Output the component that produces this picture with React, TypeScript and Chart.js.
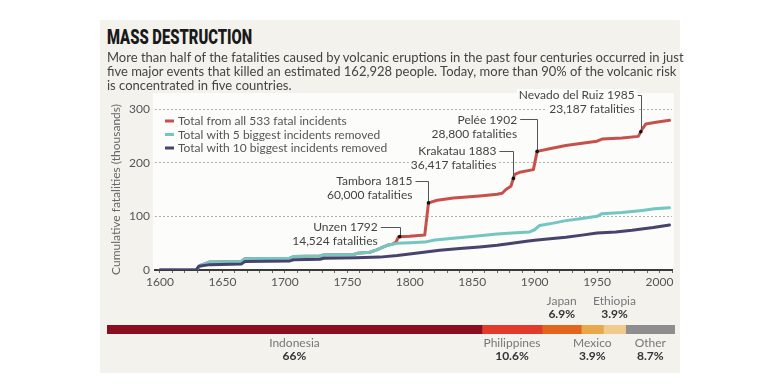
import React, { useEffect, useLayoutEffect, useRef } from 'react';
import { Chart, registerables } from 'chart.js';

Chart.register(...registerables);

// ---------------- data ----------------
const TITLE = 'MASS DESTRUCTION';
const DESCRIPTION_LINES = [
  'More than half of the fatalities caused by volcanic eruptions in the past four centuries occurred in just',
  'five major events that killed an estimated 162,928 people. Today, more than 90% of the volcanic risk',
  'is concentrated in five countries.',
];
const Y_AXIS_TITLE = 'Cumulative fatalities (thousands)';
const Y_TICKS = [0, 100, 200, 300];
const X_TICK_LABELS = [1600, 1650, 1700, 1750, 1800, 1850, 1900, 1950, 2000];
const X_MINOR_TICKS = [
  1600, 1610, 1620, 1630, 1640, 1650, 1660, 1670, 1680, 1690, 1700, 1710, 1720, 1730, 1740,
  1750, 1760, 1770, 1780, 1790, 1800, 1810, 1820, 1830, 1840, 1850, 1860, 1870, 1880, 1890,
  1900, 1910, 1920, 1930, 1940, 1950, 1960, 1970, 1980, 1990, 2000, 2010,
];

const SERIES_NAMES = [
  'Total from all 533 fatal incidents',
  'Total with 5 biggest incidents removed',
  'Total with 10 biggest incidents removed',
];

// [year, cumulative fatalities (thousands)]
const TOTAL_ALL: [number, number][] = [
  [1600, 0], [1629, 0], [1632, 8], [1636, 12], [1640, 15], [1665, 16], [1668, 21], [1704, 22],
  [1707, 25], [1728, 26], [1731, 28], [1755, 29], [1758, 31], [1768, 33], [1773, 37], [1778, 42],
  [1782, 46], [1786, 48], [1789, 52], [1791, 62], [1800, 63], [1812, 65], [1815, 125], [1822, 130],
  [1835, 134], [1856, 138], [1870, 141], [1874, 143], [1877, 150], [1881, 156], [1884, 178],
  [1888, 182], [1899, 187], [1902, 221], [1912, 226], [1925, 232], [1938, 236], [1950, 240],
  [1954, 244], [1970, 246], [1983, 249], [1986, 262], [1989, 272], [1996, 275], [2008, 279],
];
const TOTAL_MINUS_5: [number, number][] = [
  [1600, 0], [1629, 0], [1632, 8], [1636, 12], [1640, 15], [1665, 16], [1668, 21], [1704, 22],
  [1707, 25], [1728, 26], [1731, 28], [1755, 29], [1758, 31], [1768, 33], [1773, 37], [1778, 42],
  [1782, 46], [1786, 48], [1790, 50], [1800, 51], [1812, 52], [1820, 56], [1835, 59], [1856, 64],
  [1870, 67], [1882, 69], [1896, 71], [1900, 75], [1904, 83], [1912, 86], [1925, 92], [1938, 96],
  [1950, 100], [1954, 105], [1970, 107], [1986, 111], [1996, 114], [2008, 116],
];
const TOTAL_MINUS_10: [number, number][] = [
  [1600, 0], [1629, 0], [1631, 7], [1640, 10], [1665, 11], [1668, 16], [1704, 17], [1707, 19],
  [1728, 20], [1731, 22], [1757, 23], [1776, 24], [1790, 27], [1808, 32], [1824, 37], [1840, 40],
  [1856, 43], [1870, 46], [1882, 50], [1895, 54], [1902, 56], [1925, 61], [1938, 65], [1950, 69],
  [1965, 71], [1978, 74], [1995, 79], [2008, 84],
];

const EVENT_NAMES = ['Unzen', 'Tambora', 'Krakatau', 'Pelée', 'Nevado del Ruiz'];
const EVENT_YEARS = [1792, 1815, 1883, 1902, 1985];
const EVENT_FATALITIES = ['14,524', '60,000', '36,417', '28,800', '23,187'];

const COUNTRIES = ['Indonesia', 'Philippines', 'Japan', 'Mexico', 'Ethiopia', 'Other'];
const COUNTRY_SHARES = [66, 10.6, 6.9, 3.9, 3.9, 8.7];

// ---------------- styles ----------------
const FONT = 'Lato, "Open Sans", sans-serif';
const PANEL_BG = '#f3f2ed';
const PLOT_BG = '#fcfcfa';
const SERIES_COLORS = ['#c9504a', '#74c6c1', '#47436f'];
const COUNTRY_COLORS = ['#8d0d20', '#e03b2b', '#e4661d', '#e8a94c', '#f1cb8d', '#8e8e8e'];
const COUNTRY_LABEL_ABOVE = [false, false, true, false, true, false];
// label placement: first line y (in data units) and x offset of text end from the leader (px)
const EVENT_LABEL_LAYOUT = [
  { value: 80, dx: -22 },
  { value: 166, dx: -16 },
  { value: 222, dx: -17 },
  { value: 281, dx: -20 },
  { value: 326, dx: -6 },
];

function valueAt(series: [number, number][], year: number): number {
  for (let i = 1; i < series.length; i++) {
    const [x0, y0] = series[i - 1];
    const [x1, y1] = series[i];
    if (year >= x0 && year <= x1) return y0 + ((year - x0) / (x1 - x0)) * (y1 - y0);
  }
  return series[series.length - 1][1];
}

const linePlugin = {
  id: 'volcanoDecor',
  beforeDraw(chart: any) {
    const { ctx, chartArea: a } = chart;
    ctx.save();
    ctx.fillStyle = PLOT_BG;
    ctx.fillRect(a.left - 2, a.top - 16, a.right - a.left + 4, a.bottom - a.top + 17);
    ctx.restore();
  },
  afterDatasetsDraw(chart: any) {
    const { ctx, chartArea: a, scales } = chart;
    const xs = scales.x;
    const ys = scales.y;
    ctx.save();
    // legend
    ctx.font = `12px ${FONT}`;
    ctx.textBaseline = 'middle';
    SERIES_NAMES.forEach((name, i) => {
      const y = a.top + 12 + i * 13.5;
      const x = a.left + 10;
      ctx.strokeStyle = SERIES_COLORS[i];
      ctx.lineWidth = 3;
      ctx.lineCap = 'butt';
      ctx.beginPath();
      ctx.moveTo(x, y);
      ctx.lineTo(x + 9, y);
      ctx.stroke();
      ctx.fillStyle = '#555';
      ctx.textAlign = 'left';
      ctx.fillText(name, x + 13, y + 0.5);
    });
    // event annotations
    EVENT_NAMES.forEach((name, i) => {
      const year = EVENT_YEARS[i];
      const px = xs.getPixelForValue(year);
      const py = ys.getPixelForValue(valueAt(TOTAL_ALL, year));
      const layout = EVENT_LABEL_LAYOUT[i];
      const ly = ys.getPixelForValue(layout.value);
      const tx = px + layout.dx;
      const lines = [`${name} ${year}`, `${EVENT_FATALITIES[i]} fatalities`];
      ctx.font = `12px ${FONT}`;
      lines.forEach((t, k) => {
        const yy = ly + k * 14;
        const w = ctx.measureText(t).width;
        ctx.fillStyle = PLOT_BG;
        ctx.fillRect(tx - w - 2, yy - 6, w + 4, 12);
        ctx.fillStyle = '#444';
        ctx.textAlign = 'right';
        ctx.fillText(t, tx, yy + 0.5);
      });
      ctx.strokeStyle = '#555';
      ctx.lineWidth = 1;
      ctx.beginPath();
      ctx.moveTo(tx + 3, Math.round(ly) + 0.5);
      ctx.lineTo(Math.round(px) + 0.5, Math.round(ly) + 0.5);
      ctx.lineTo(Math.round(px) + 0.5, py);
      ctx.stroke();
      ctx.fillStyle = '#111';
      ctx.beginPath();
      ctx.arc(px, py, 1.8, 0, Math.PI * 2);
      ctx.fill();
    });
    ctx.restore();
  },
};

const barPlugin = {
  id: 'countryLabels',
  afterDatasetsDraw(chart: any) {
    const { ctx, chartArea: a } = chart;
    ctx.save();
    ctx.textAlign = 'center';
    ctx.textBaseline = 'middle';
    COUNTRIES.forEach((c, i) => {
      const bar = chart.getDatasetMeta(i).data[0];
      const cx = (bar.base + bar.x) / 2;
      const above = COUNTRY_LABEL_ABOVE[i];
      const y1 = above ? a.top - 24 : a.bottom + 9;
      const y2 = y1 + 13.5;
      ctx.font = `12px ${FONT}`;
      ctx.fillStyle = '#777';
      ctx.fillText(c, cx, y1);
      ctx.font = `bold 12px ${FONT}`;
      ctx.fillStyle = '#333';
      ctx.fillText(`${COUNTRY_SHARES[i]}%`, cx, y2);
    });
    ctx.restore();
  },
};

function LineChart() {
  const ref = useRef<HTMLCanvasElement>(null);
  useEffect(() => {
    const toXY = (s: [number, number][]) => s.map(([x, y]) => ({ x, y }));
    const series = [TOTAL_ALL, TOTAL_MINUS_5, TOTAL_MINUS_10];
    const chart = new Chart(ref.current!, {
      type: 'line',
      data: {
        datasets: series.map((s, i) => ({
          label: SERIES_NAMES[i],
          data: toXY(s),
          borderColor: SERIES_COLORS[i],
          borderWidth: 3,
          pointRadius: 0,
          borderJoinStyle: 'round',
          borderCapStyle: 'round',
          fill: false,
          order: 2 - i,
        })),
      } as any,
      options: {
        responsive: false,
        animation: false,
        events: [],
        layout: { padding: { left: 0, right: 8, top: 29, bottom: 0 } },
        plugins: { legend: { display: false }, tooltip: { enabled: false } },
        scales: {
          x: {
            type: 'linear',
            min: 1596,
            max: 2010,
            afterFit: (s: any) => { s.height = 25; },
            afterBuildTicks: (s: any) => { s.ticks = X_MINOR_TICKS.map((v) => ({ value: v })); },
            ticks: {
              autoSkip: false,
              maxRotation: 0,
              padding: 2,
              color: '#555',
              font: { family: FONT, size: 12 },
              callback: (v: any) => (X_TICK_LABELS.includes(Number(v)) ? String(v) : ''),
            },
            grid: { drawOnChartArea: false, drawTicks: true, tickLength: 3, color: '#666', lineWidth: 1 },
            border: { display: true, color: '#3a3a3a', width: 2 },
          },
          y: {
            min: 0,
            max: 300,
            afterFit: (s: any) => { s.width = 55; },
            afterBuildTicks: (s: any) => { s.ticks = Y_TICKS.map((v) => ({ value: v })); },
            ticks: { padding: 5, color: '#555', font: { family: FONT, size: 12 } },
            grid: {
              drawTicks: false,
              color: (c: any) => (c.tick && c.tick.value === 0 ? 'rgba(0,0,0,0)' : '#b0b0b0'),
              lineWidth: 1,
            },
            border: { display: false, dash: [2, 2] },
            title: {
              display: true,
              text: Y_AXIS_TITLE,
              color: '#666',
              font: { family: FONT, size: 12 },
              padding: { top: 9, bottom: 0 },
            },
          },
        },
      } as any,
      plugins: [linePlugin],
    });
    return () => chart.destroy();
  }, []);
  return (
    <canvas
      ref={ref}
      width={580}
      height={215}
      style={{ position: 'absolute', left: 100, top: 80, width: 580, height: 215 }}
    />
  );
}

function ShareBar() {
  const ref = useRef<HTMLCanvasElement>(null);
  useEffect(() => {
    const chart = new Chart(ref.current!, {
      type: 'bar',
      data: {
        labels: ['share'],
        datasets: COUNTRIES.map((c, i) => ({
          label: c,
          data: [COUNTRY_SHARES[i]],
          backgroundColor: COUNTRY_COLORS[i],
          borderWidth: 0,
          barPercentage: 1,
          categoryPercentage: 1,
        })),
      },
      options: {
        indexAxis: 'y',
        responsive: false,
        animation: false,
        events: [],
        layout: { padding: { left: 7, right: 5, top: 30, bottom: 39 } },
        plugins: { legend: { display: false }, tooltip: { enabled: false } },
        scales: {
          x: { stacked: true, min: 0, max: 100, display: false },
          y: { stacked: true, display: false },
        },
      } as any,
      plugins: [barPlugin],
    });
    return () => chart.destroy();
  }, []);
  return (
    <canvas
      ref={ref}
      width={580}
      height={78}
      style={{ position: 'absolute', left: 100, top: 295, width: 580, height: 78 }}
    />
  );
}

function Title() {
  const ref = useRef<HTMLSpanElement>(null);
  useLayoutEffect(() => {
    const el = ref.current!;
    const w = el.offsetWidth;
    if (w > 0) el.style.transform = `scaleX(${145 / w})`;
  }, []);
  return (
    <span
      ref={ref}
      style={{
        position: 'absolute',
        left: 107,
        top: 27,
        display: 'inline-block',
        transformOrigin: '0 0',
        fontFamily: 'Roboto, "Liberation Sans", sans-serif',
        fontWeight: 900,
        fontSize: 21,
        lineHeight: '21px',
        color: '#1a1a1a',
        whiteSpace: 'nowrap',
        zIndex: 2,
      }}
    >
      {TITLE}
    </span>
  );
}

export default function App() {
  return (
    <div style={{ position: 'absolute', left: 0, top: 0, width: 780, height: 390, background: '#fff', overflow: 'hidden' }}>
      <div style={{ position: 'absolute', left: 100, top: 20, width: 580, height: 353, background: PANEL_BG }} />
      <Title />
      <LineChart />
      <ShareBar />
      <div
        style={{
          position: 'absolute',
          left: 107,
          top: 50,
          fontFamily: FONT,
          fontSize: 13,
          lineHeight: '14px',
          color: '#444',
          whiteSpace: 'nowrap',
          zIndex: 2,
        }}
      >
        {DESCRIPTION_LINES.map((l, i) => (
          <div key={i}>{l}</div>
        ))}
      </div>
    </div>
  );
}
